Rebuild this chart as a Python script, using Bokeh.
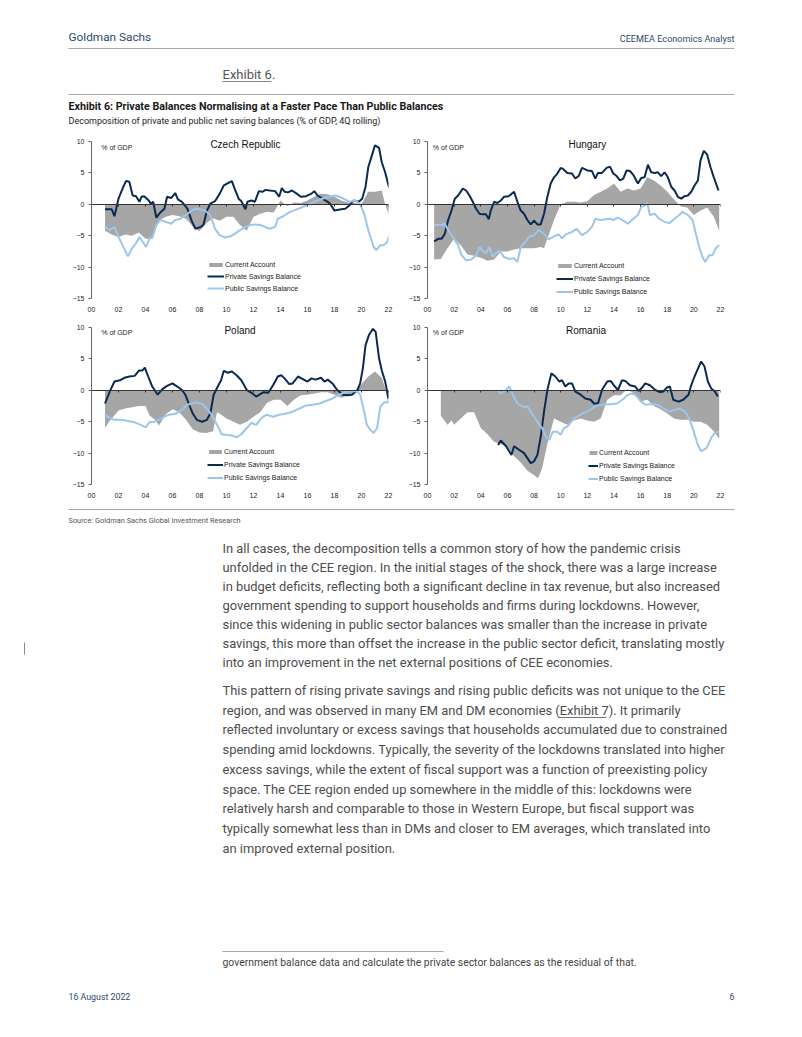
from bokeh.plotting import figure
from bokeh.models import Range1d, FixedTicker, Legend, LegendItem, Label, LinearAxis
from bokeh.layouts import column, row
from bokeh.embed import file_html
from bokeh.resources import INLINE
from bokeh.core.properties import value

# ---------------- data (years since 2000, % of GDP) ----------------
cz_ca_t = [1.0, 1.5, 2.0, 2.5, 3.0, 3.5, 4.0, 4.5, 5.0, 5.5, 6.0, 6.5, 7.0, 7.5, 8.0, 8.5, 9.0, 9.5, 10.0, 10.5,
           11.0, 11.5, 12.0, 12.5, 13.0, 13.5, 14.0, 14.5, 15.0, 15.5, 16.0, 16.5, 17.0, 17.5, 18.0, 18.5, 19.0,
           19.5, 20.0, 20.5, 21.0, 21.5, 21.75, 22.05]
cz_ca_v = [-4.2, -4.8, -5.2, -4.8, -5.0, -4.5, -5.5, -5.5, -2.6, -2.0, -1.7, -1.9, -2.3, -3.5, -4.3, -3.0, -2.2,
           -2.6, -2.0, -2.0, -3.3, -4.2, -2.0, -1.5, -1.2, -1.3, 0.6, -0.3, 0.3, 0.2, 0.6, 1.2, 1.7, 1.6, 1.2,
           0.6, 0.3, 0.2, 0.0, 2.0, 2.0, 2.2, 0.0, -1.8]
cz_priv_t = [1.0, 1.5, 1.7, 2.0, 2.3, 2.55, 2.8, 3.05, 3.3, 3.55, 3.7, 3.9, 4.2, 4.4, 4.57, 4.8, 5.1, 5.4, 5.6,
             5.9, 6.2, 6.4, 6.7, 7.1, 7.45, 7.7, 8.1, 8.3, 8.55, 8.8, 9.15, 9.5, 9.8, 10.15, 10.4, 10.6, 10.9,
             11.1, 11.4, 11.55, 11.85, 12.1, 12.4, 12.65, 12.9, 13.2, 13.6, 13.9, 14.1, 14.3, 14.55, 14.85, 15.2,
             15.5, 15.9, 16.3, 16.5, 16.75, 17.1, 17.5, 17.7, 18.0, 18.5, 18.8, 19.1, 19.4, 19.8, 20.05, 20.3,
             20.5, 20.8, 21.0, 21.3, 21.5, 21.75, 22.05]
cz_priv_v = [-0.8, -0.8, -1.9, 0.9, 2.5, 3.7, 3.6, 1.4, 1.3, 0.4, 1.2, 1.3, 0.7, 0.1, 0.4, -2.1, -1.3, -0.7, 1.2,
             1.0, 1.8, 0.8, 0.4, -0.7, -2.8, -3.9, -3.6, -3.2, -1.0, 0.1, 0.5, 1.7, 3.0, 3.4, 3.7, 2.5, 0.9, 0.5,
             -0.8, 0.4, 0.6, 0.4, 2.1, 2.0, 2.3, 2.2, 2.1, 1.2, 2.6, 2.0, 1.9, 2.2, 1.7, 1.2, 1.3, 1.7, 2.1, 1.4,
             0.9, 0.4, 0.0, -1.0, -0.8, -0.7, -0.2, 0.6, 0.4, 0.9, 2.8, 5.9, 8.0, 9.4, 9.0, 6.7, 5.1, 2.6]
cz_pub_t = [1.0, 1.35, 1.7, 2.0, 2.3, 2.7, 3.0, 3.3, 3.55, 3.8, 4.05, 4.3, 4.5, 4.8, 5.1, 5.5, 5.9, 6.2, 6.6, 7.0,
            7.3, 7.7, 8.1, 8.4, 8.8, 9.15, 9.5, 9.9, 10.3, 10.6, 11.0, 11.4, 11.7, 12.1, 12.5, 12.85, 13.2, 13.6,
            13.8, 14.2, 14.7, 15.2, 15.65, 16.1, 16.6, 17.1, 17.6, 18.1, 18.6, 19.1, 19.55, 19.9, 20.2, 20.5,
            20.9, 21.1, 21.4, 21.65, 21.9, 22.1]
cz_pub_v = [-3.6, -4.1, -3.6, -5.2, -6.5, -8.3, -7.0, -6.2, -5.2, -6.0, -6.8, -5.4, -5.4, -3.3, -2.5, -2.8, -3.1,
            -2.5, -2.3, -1.7, -1.2, -0.7, -0.8, -1.0, -1.7, -3.9, -4.9, -5.3, -5.1, -4.7, -4.1, -3.6, -3.3, -3.2,
            -3.3, -3.6, -3.9, -3.6, -2.3, -1.9, -1.2, -0.8, -0.4, 0.0, 0.5, 0.9, 1.2, 1.4, 1.0, 0.4, 0.6, 0.0,
            -1.5, -4.1, -6.8, -7.3, -6.5, -6.5, -6.0, -4.7]

hu_ca_t = [0.5, 1.0, 1.5, 2.0, 2.5, 3.0, 3.5, 4.0, 4.5, 5.0, 5.5, 6.0, 6.5, 7.0, 7.5, 8.0, 8.5, 8.75, 9.0, 9.5,
           10.0, 10.5, 11.0, 11.5, 12.0, 12.5, 13.0, 13.5, 14.0, 14.5, 15.0, 15.5, 16.0, 16.5, 17.0, 17.5, 18.0,
           18.5, 19.0, 19.5, 20.0, 20.5, 21.0, 21.5, 21.9]
hu_ca_v = [-8.8, -8.7, -7.0, -5.5, -6.5, -8.0, -8.2, -8.5, -9.0, -8.8, -7.5, -7.5, -7.2, -7.0, -7.0, -7.0, -6.8,
           -7.0, -5.5, -2.5, 0.0, 0.4, 0.4, 0.3, 0.5, 1.5, 2.0, 2.5, 3.3, 2.0, 2.5, 2.2, 2.5, 4.3, 3.8, 3.0, 2.0,
           0.8, -0.3, -0.5, -1.7, -1.0, -0.5, -2.0, -4.2]
hu_priv_t = [0.5, 0.8, 1.05, 1.3, 1.55, 1.8, 2.05, 2.3, 2.65, 2.9, 3.15, 3.4, 3.65, 3.9, 4.15, 4.4, 4.6, 4.75, 5.0,
             5.25, 5.5, 5.75, 6.1, 6.5, 6.75, 7.0, 7.25, 7.5, 7.75, 8.0, 8.25, 8.5, 8.75, 9.0, 9.25, 9.5, 9.75,
             10.0, 10.2, 10.5, 10.85, 11.1, 11.35, 11.6, 12.0, 12.35, 12.6, 12.8, 13.1, 13.45, 13.7, 13.95, 14.2,
             14.45, 14.7, 14.95, 15.2, 15.45, 15.8, 16.05, 16.3, 16.55, 16.8, 17.05, 17.3, 17.55, 17.8, 18.05,
             18.3, 18.55, 18.8, 19.05, 19.3, 19.55, 19.8, 20.05, 20.3, 20.5, 20.75, 21.0, 21.25, 21.5, 21.85]
hu_priv_v = [-5.9, -5.5, -5.5, -4.7, -2.5, -1.0, 0.9, 1.4, 2.5, 2.2, 1.4, 0.4, -0.7, -1.5, -1.6, -1.6, -2.4, -1.0,
             0.4, 0.2, 0.6, 1.2, 1.3, 2.0, 0.4, -1.0, -1.5, -2.5, -3.2, -2.6, -3.2, -3.2, -1.5, 1.2, 3.3, 4.3, 4.9,
             5.8, 5.6, 5.0, 4.9, 4.1, 4.5, 5.8, 5.4, 5.3, 4.1, 5.0, 5.0, 5.8, 6.0, 4.9, 4.5, 3.8, 4.1, 5.4, 5.3,
             4.7, 3.3, 4.2, 4.3, 6.3, 5.1, 5.0, 5.1, 4.5, 5.1, 4.3, 2.8, 2.2, 1.2, 0.9, 1.3, 1.4, 2.0, 3.0, 3.8,
             7.0, 8.5, 7.9, 5.9, 4.3, 2.2]
hu_pub_t = [0.5, 1.05, 1.3, 1.55, 1.9, 2.3, 2.55, 2.9, 3.3, 3.65, 3.9, 4.15, 4.4, 4.65, 4.9, 5.15, 5.4, 5.75, 6.15,
            6.5, 6.75, 7.0, 7.35, 7.6, 8.0, 8.35, 8.75, 9.1, 9.5, 9.85, 10.1, 10.45, 10.85, 11.2, 11.6, 12.0,
            12.35, 12.6, 12.95, 13.3, 13.7, 13.95, 14.3, 14.7, 15.05, 15.45, 15.8, 16.05, 16.3, 16.5, 16.7, 17.05,
            17.4, 17.8, 18.15, 18.55, 18.9, 19.15, 19.55, 19.9, 20.15, 20.4, 20.65, 20.85, 21.15, 21.4, 21.65,
            21.9]
hu_pub_v = [-3.3, -3.3, -3.1, -4.1, -5.2, -6.5, -8.1, -8.9, -8.8, -8.1, -6.8, -7.4, -7.8, -6.8, -8.4, -7.7, -7.4,
            -8.4, -8.7, -8.6, -9.2, -6.8, -6.0, -5.2, -4.9, -4.1, -4.7, -5.6, -5.1, -4.8, -5.4, -4.7, -4.4, -3.9,
            -4.9, -4.4, -3.6, -2.3, -2.5, -2.4, -2.3, -2.5, -2.1, -2.6, -3.1, -2.3, -1.7, -0.4, -0.2, 0.2, -1.7,
            -1.5, -2.3, -2.8, -3.0, -2.3, -1.7, -1.2, -1.7, -2.5, -4.7, -6.8, -8.4, -9.2, -8.1, -8.1, -7.0, -6.5]

pl_ca_t = [1.0, 1.3, 2.0, 2.5, 3.0, 3.5, 4.0, 4.3, 4.7, 5.0, 5.5, 6.0, 6.5, 7.0, 7.5, 8.0, 8.5, 9.0, 9.3, 9.7,
           10.0, 10.5, 11.0, 11.5, 12.0, 12.5, 13.0, 13.5, 14.0, 14.5, 15.0, 15.5, 16.0, 16.5, 17.0, 17.5, 18.0,
           18.5, 19.0, 19.5, 20.0, 20.5, 21.0, 21.5, 21.8, 22.0]
pl_ca_v = [-6.0, -5.0, -3.2, -2.9, -2.7, -2.5, -2.5, -4.0, -4.7, -5.6, -3.8, -3.0, -3.5, -4.7, -6.2, -6.7, -6.8,
           -6.5, -3.5, -4.0, -4.5, -5.0, -5.5, -5.0, -4.2, -3.5, -2.0, -1.5, -1.5, -2.5, -1.5, -0.8, -0.7, -0.5,
           -0.3, -0.3, -0.7, -1.2, -0.8, -0.3, 1.0, 2.2, 3.0, 2.0, 0.0, -2.5]
pl_priv_t = [1.0, 1.35, 1.7, 2.1, 2.45, 2.8, 3.2, 3.5, 3.8, 3.95, 4.2, 4.5, 4.9, 5.25, 5.6, 6.0, 6.35, 6.7, 6.95,
             7.2, 7.5, 7.8, 8.2, 8.55, 8.8, 9.05, 9.4, 9.6, 9.8, 10.1, 10.4, 10.75, 11.1, 11.5, 11.85, 12.2, 12.5,
             12.75, 13.1, 13.45, 13.8, 14.05, 14.3, 14.65, 14.9, 15.3, 15.65, 16.0, 16.3, 16.6, 17.0, 17.25, 17.5,
             17.85, 18.2, 18.6, 18.95, 19.3, 19.7, 19.9, 20.1, 20.3, 20.55, 20.85, 21.05, 21.3, 21.5, 21.75, 22.0]
pl_priv_v = [-2.1, -0.2, 1.4, 1.6, 2.0, 2.2, 2.3, 3.1, 3.2, 3.6, 2.2, 0.6, -0.7, 0.2, 0.7, 1.1, 0.6, 0.05, -0.7,
             -2.1, -3.7, -4.7, -5.0, -4.7, -3.7, -0.7, 0.8, 1.6, 3.1, 2.8, 3.0, 2.4, 1.6, 0.05, -0.4, -1.0, -0.6,
             -0.3, -0.4, 0.8, 2.2, 2.4, 1.9, 1.0, 1.1, 2.2, 1.8, 1.4, 1.9, 1.7, 2.0, 1.4, 1.7, 1.1, 0.05, -0.7,
             -0.8, -0.7, 0.05, 1.1, 3.5, 7.2, 8.8, 9.8, 9.3, 5.1, 3.2, 1.4, -1.3]
pl_pub_t = [1.0, 1.35, 1.7, 2.2, 2.7, 3.2, 3.65, 4.0, 4.3, 4.65, 5.0, 5.4, 5.75, 6.25, 6.7, 7.1, 7.45, 7.8, 8.2,
            8.55, 8.9, 9.3, 9.65, 10.0, 10.4, 10.75, 11.1, 11.5, 11.85, 12.2, 12.6, 12.95, 13.45, 13.9, 14.4, 14.9,
            15.4, 15.9, 16.4, 16.9, 17.35, 17.85, 18.35, 18.8, 19.3, 19.7, 19.9, 20.2, 20.4, 20.65, 20.9, 21.15,
            21.4, 21.7, 22.0]
pl_pub_v = [-3.9, -4.4, -4.7, -4.7, -4.9, -5.1, -5.5, -5.9, -5.1, -5.0, -4.7, -4.2, -3.9, -3.7, -3.1, -2.3, -2.1,
            -1.9, -2.2, -2.9, -3.9, -5.5, -7.0, -7.1, -7.2, -7.5, -7.0, -6.0, -5.2, -5.5, -4.4, -3.9, -4.2, -3.9,
            -3.7, -3.4, -2.9, -2.4, -2.3, -2.1, -1.7, -1.3, -0.7, -0.3, -0.1, -0.2, -0.7, -3.4, -5.5, -6.3, -6.8,
            -6.0, -2.6, -1.9, -1.9]

ro_ca_t = [1.0, 1.5, 1.8, 2.0, 2.5, 3.0, 3.5, 4.0, 4.5, 5.0, 5.5, 6.0, 6.5, 7.0, 7.5, 8.0, 8.3, 8.6, 9.0, 9.5,
           10.0, 10.5, 11.0, 11.5, 12.0, 12.5, 13.0, 13.5, 14.0, 14.5, 15.0, 15.5, 16.0, 16.5, 17.0, 17.5, 18.0,
           18.5, 19.0, 19.5, 20.0, 20.5, 21.0, 21.5, 21.9]
ro_ca_v = [-4.0, -5.5, -4.8, -5.5, -4.5, -3.5, -3.5, -6.0, -7.0, -8.2, -8.6, -9.0, -10.5, -11.5, -12.8, -13.5,
           -14.0, -12.5, -8.5, -4.5, -5.0, -5.5, -4.8, -4.5, -4.8, -5.0, -4.5, -1.5, -0.8, -0.8, 0.2, -0.5, -1.8,
           -1.5, -2.5, -3.0, -3.7, -4.5, -4.7, -4.7, -5.0, -5.0, -5.5, -6.5, -7.7]
ro_priv_t = [5.3, 5.5, 5.9, 6.3, 6.5, 6.9, 7.25, 7.5, 7.75, 8.0, 8.25, 8.5, 8.75, 9.0, 9.3, 9.6, 9.9, 10.1, 10.35,
             10.6, 10.85, 11.1, 11.5, 11.85, 12.25, 12.5, 12.8, 13.1, 13.5, 13.75, 14.0, 14.3, 14.6, 14.85, 15.2,
             15.6, 15.85, 16.1, 16.35, 16.7, 17.1, 17.45, 17.7, 17.95, 18.2, 18.45, 18.85, 19.2, 19.6, 19.8, 20.05,
             20.3, 20.55, 20.8, 21.05, 21.3, 21.55, 21.8]
ro_priv_v = [-8.7, -8.0, -8.9, -10.3, -8.9, -9.5, -10.0, -10.8, -11.6, -11.3, -10.3, -7.4, -3.4, 0.05, 2.7, 2.2,
             1.4, 1.6, 0.6, 1.1, 1.1, -0.2, -0.7, -1.3, -1.5, -2.1, -2.1, 0.05, 1.4, 1.5, 0.8, 0.05, 1.6, 1.5, 0.8,
             0.6, -0.1, 0.4, 1.1, 0.8, 0.05, -0.3, -0.2, 0.4, 0.6, -1.5, -1.8, -1.5, -0.7, 0.8, 2.2, 3.4, 4.6, 3.8,
             1.4, 0.3, -0.1, -1.0]
ro_pub_t = [5.3, 5.5, 5.9, 6.15, 6.4, 6.75, 7.15, 7.5, 7.9, 8.25, 8.6, 8.9, 9.15, 9.4, 9.75, 10.0, 10.25, 10.5,
            10.9, 11.25, 11.6, 12.0, 12.35, 12.75, 13.1, 13.5, 13.85, 14.25, 14.5, 14.75, 15.0, 15.3, 15.6, 16.0,
            16.35, 16.7, 17.1, 17.45, 17.85, 18.2, 18.6, 18.95, 19.35, 19.7, 19.95, 20.3, 20.55, 20.95, 21.3,
            21.55, 21.9]
ro_pub_v = [-0.1, -0.5, 0.05, 0.6, -0.7, -2.1, -2.6, -2.6, -3.9, -5.0, -6.0, -7.4, -7.9, -6.6, -6.6, -7.1, -6.0,
            -5.8, -4.7, -4.2, -3.7, -3.4, -2.9, -2.4, -2.3, -2.2, -2.2, -2.1, -1.7, -1.3, -0.8, -0.5, -0.7, -1.7,
            -2.3, -2.2, -2.2, -2.5, -3.1, -3.4, -3.1, -2.9, -3.4, -4.7, -6.3, -8.7, -9.7, -9.2, -7.6, -6.8, -6.6]

panel_titles = ["Czech Republic", "Hungary", "Poland", "Romania"]
series_names = ["Current Account", "Private Savings Balance", "Public Savings Balance"]
x_ticks = list(range(0, 23, 2))
x_tick_labels = ["%02d" % t for t in x_ticks]
y_ticks = [-15, -10, -5, 0, 5, 10]

# ---------------- styles ----------------
NAVY = "#0b2a52"
LIGHT = "#9cc6ea"
GREY = "#a6a6a6"
HEAD = "#2f4a6b"
BODY = "#4d4d4d"
PAGEFONT = "Roboto"
ARIAL = "Liberation Sans"


def chart(title, ca_t, ca_v, pr_t, pr_v, pu_t, pu_v, w, h, bl, br, bt, bb,
          leg_x, leg_a_y, leg_b_y, item_h, glyph_w, title_x, title_y, unit_x, unit_y):
    p = figure(width=w, height=h, x_range=Range1d(0, 22), y_range=Range1d(-15, 10.8),
               output_backend="svg", toolbar_location=None,
               min_border_left=bl, min_border_right=br, min_border_top=bt, min_border_bottom=bb)
    p.outline_line_color = None
    p.xgrid.visible = False
    p.ygrid.visible = False
    ca = p.varea(x=ca_t, y1=0, y2=ca_v, fill_color=GREY, fill_alpha=1.0)
    pr = p.line(pr_t, pr_v, line_color=NAVY, line_width=2)
    pu = p.line(pu_t, pu_v, line_color=LIGHT, line_width=2)
    # axes
    p.yaxis.ticker = FixedTicker(ticks=y_ticks)
    p.yaxis.bounds = (-15, 10)
    p.yaxis.axis_line_color = "#666666"
    p.yaxis.major_tick_line_color = "#666666"
    p.yaxis.major_tick_out = 3
    p.yaxis.major_tick_in = 0
    p.yaxis.minor_tick_line_color = None
    p.yaxis.major_label_text_font = ARIAL
    p.yaxis.major_label_text_font_size = "7px"
    p.yaxis.major_label_text_color = "#222222"
    p.yaxis.major_label_standoff = 4
    p.xaxis.ticker = FixedTicker(ticks=x_ticks)
    p.xaxis.major_label_overrides = dict(zip(x_ticks, x_tick_labels))
    p.xaxis.axis_line_color = None
    p.xaxis.major_tick_line_color = None
    p.xaxis.minor_tick_line_color = None
    p.xaxis.major_label_text_font = ARIAL
    p.xaxis.major_label_text_font_size = "7px"
    p.xaxis.major_label_text_color = "#222222"
    p.xaxis.major_label_standoff = 2
    zero = LinearAxis(fixed_location=0, ticker=FixedTicker(ticks=x_ticks),
                      axis_line_color="#333333", axis_line_width=1,
                      major_tick_line_color="#333333", major_tick_out=2, major_tick_in=0,
                      minor_tick_line_color=None, major_label_text_font_size="0px",
                      major_label_text_color=None)
    p.add_layout(zero, "below")
    # labels
    p.add_layout(Label(x=title_x, y=title_y, text=title, text_font=ARIAL, text_font_size="10px",
                       text_align="center", text_baseline="middle", text_color="#111111"))
    p.add_layout(Label(x=unit_x, y=unit_y, text="% of GDP", text_font=ARIAL, text_font_size="7px",
                       text_align="left", text_baseline="middle", text_color="#222222"))
    common = dict(background_fill_alpha=0, border_line_color=None, padding=0, margin=0, spacing=0,
                  glyph_width=glyph_w, label_standoff=1, label_text_font=ARIAL,
                  label_text_font_size="7px", label_text_color="#222222")
    leg_a = Legend(items=[LegendItem(label=series_names[0], renderers=[ca])],
                   location=(leg_x, leg_a_y), glyph_height=5, label_height=5, **common)
    leg_b = Legend(items=[LegendItem(label=series_names[1], renderers=[pr]),
                          LegendItem(label=series_names[2], renderers=[pu])],
                   location=(leg_x, leg_b_y), glyph_height=item_h, label_height=item_h, **common)
    p.add_layout(leg_a)
    p.add_layout(leg_b)
    return p


c1 = chart(panel_titles[0], cz_ca_t, cz_ca_v, cz_priv_t, cz_priv_v, cz_pub_t, cz_pub_v,
           395, 182, 91, 7, 3, 17, 116, 30, 4, 12, 17, 11.4, 9.52, 0.72, 9.1)
c2 = chart(panel_titles[1], hu_ca_t, hu_ca_v, hu_priv_t, hu_priv_v, hu_pub_t, hu_pub_v,
           405, 182, 32, 80, 3, 17, 129, 29, 0, 13, 17, 12.0, 9.52, 0.4, 9.1)
c3 = chart(panel_titles[2], pl_ca_t, pl_ca_v, pl_priv_t, pl_priv_v, pl_pub_t, pl_pub_v,
           395, 185, 91, 7, 7, 16, 116, 29, 0, 13, 16, 11.0, 9.57, 0.72, 9.2)
c4 = chart(panel_titles[3], ro_ca_t, ro_ca_v, ro_priv_t, ro_priv_v, ro_pub_t, ro_pub_v,
           405, 185, 32, 80, 7, 16, 161, 28, -1, 13, 10, 11.9, 9.57, 0.4, 9.2)


def page(top, bottom):
    p = figure(width=800, height=bottom - top, x_range=Range1d(0, 800), y_range=Range1d(bottom, top),
               output_backend="svg", toolbar_location=None, min_border=0)
    p.axis.visible = False
    p.grid.visible = False
    p.outline_line_color = None
    return p


def txt(p, x, y, s, size, color, font=PAGEFONT, align="left", style="normal"):
    p.text(x=[x], y=[y], text=[s], text_font=value(font), text_font_size=size, text_color=color,
           text_align=align, text_baseline="middle", text_font_style=style)


hdr = page(0, 133)
txt(hdr, 68, 36, "Goldman Sachs", "11.8px", HEAD)
txt(hdr, 734, 38, "CEEMEA Economics Analyst", "9.1px", HEAD, align="right")
hdr.segment(x0=[68], y0=[48], x1=[734], y1=[48], line_color="#a8a8a8", line_width=1.2)
txt(hdr, 222, 74, "Exhibit 6.", "13px", "#555555")
hdr.segment(x0=[222], y0=[81], x1=[271], y1=[81], line_color="#666666", line_width=0.8)
hdr.segment(x0=[68], y0=[94], x1=[734], y1=[94], line_color="#a8a8a8", line_width=1.2)
txt(hdr, 68, 106, "Exhibit 6: Private Balances Normalising at a Faster Pace Than Public Balances", "10.7px",
    "#1a1a1a", style="bold")
txt(hdr, 68, 120, "Decomposition of private and public net saving balances (% of GDP, 4Q rolling)", "9px",
    "#222222")

para1 = [
    "In all cases, the decomposition tells a common story of how the pandemic crisis",
    "unfolded in the CEE region. In the initial stages of the shock, there was a large increase",
    "in budget deficits, reflecting both a significant decline in tax revenue, but also increased",
    "government spending to support households and firms during lockdowns. However,",
    "since this widening in public sector balances was smaller than the increase in private",
    "savings, this more than offset the increase in the public sector deficit, translating mostly",
    "into an improvement in the net external positions of CEE economies.",
]
para2 = [
    "This pattern of rising private savings and rising public deficits was not unique to the CEE",
    "region, and was observed in many EM and DM economies (Exhibit 7). It primarily",
    "reflected involuntary or excess savings that households accumulated due to constrained",
    "spending amid lockdowns. Typically, the severity of the lockdowns translated into higher",
    "excess savings, while the extent of fiscal support was a function of preexisting policy",
    "space. The CEE region ended up somewhere in the middle of this: lockdowns were",
    "relatively harsh and comparable to those in Western Europe, but fiscal support was",
    "typically somewhat less than in DMs and closer to EM averages, which translated into",
    "an improved external position.",
]

ftr = page(500, 1030)
ftr.segment(x0=[68], y0=[509], x1=[734], y1=[509], line_color="#a8a8a8", line_width=1.2)
txt(ftr, 68, 520, "Source: Goldman Sachs Global Investment Research", "7.4px", "#555555")
for i, s in enumerate(para1):
    txt(ftr, 222, 548 + i * 19.0, s, "12.9px", BODY)
for i, s in enumerate(para2):
    txt(ftr, 222, 690 + i * 19.7, s, "12.9px", BODY)
ftr.segment(x0=[558], y0=[717], x1=[606], y1=[717], line_color=BODY, line_width=0.8)
ftr.segment(x0=[24], y0=[642], x1=[24], y1=[654], line_color="#888888", line_width=1)
ftr.segment(x0=[222], y0=[951], x1=[443], y1=[951], line_color="#a8a8a8", line_width=1)
txt(ftr, 222, 962, "government balance data and calculate the private sector balances as the residual of that.",
    "10.4px", "#444444")
txt(ftr, 68, 996, "16 August 2022", "8.8px", HEAD)
txt(ftr, 734, 996, "6", "8.8px", HEAD, align="right")

layout = column(hdr, row(c1, c2), row(c3, c4), ftr)
open("out.html", "w").write(file_html(layout, INLINE))
